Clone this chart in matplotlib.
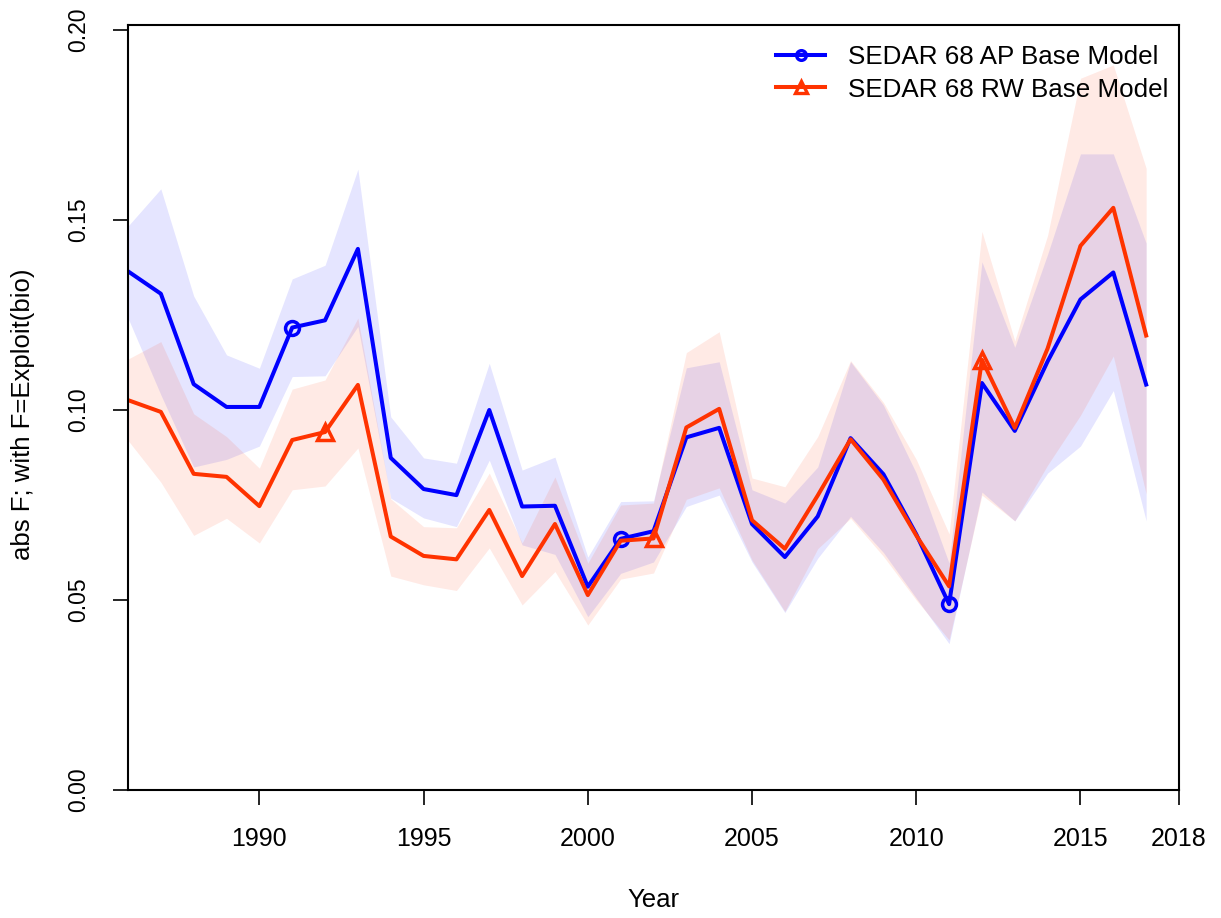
import matplotlib
matplotlib.use("Agg")
import matplotlib.pyplot as plt
from matplotlib.lines import Line2D

plt.rcParams["font.family"] = ["Liberation Sans", "DejaVu Sans"]

years = list(range(1986, 2018))

# SEDAR 68 AP base model: exploitation rate and interval bounds
ap_f = [0.1365, 0.1306, 0.1068, 0.1008, 0.1008, 0.1217, 0.1236, 0.1424,
        0.0874, 0.0792, 0.0776, 0.1000, 0.0746, 0.0748, 0.0535, 0.0661,
        0.0681, 0.0928, 0.0953, 0.0700, 0.0613, 0.0720, 0.0926, 0.0831,
        0.0673, 0.0489, 0.1071, 0.0945, 0.1128, 0.1291, 0.1362, 0.1067]
ap_hi = [0.1484, 0.1582, 0.1300, 0.1145, 0.1110, 0.1345, 0.1381, 0.1634,
         0.0982, 0.0874, 0.0860, 0.1123, 0.0842, 0.0876, 0.0613, 0.0759,
         0.0761, 0.1111, 0.1127, 0.0790, 0.0755, 0.0850, 0.1127, 0.1013,
         0.0834, 0.0597, 0.1390, 0.1165, 0.1410, 0.1674, 0.1674, 0.1439]
ap_lo = [0.1242, 0.1040, 0.0850, 0.0870, 0.0905, 0.1088, 0.1090, 0.1220,
         0.0768, 0.0716, 0.0693, 0.0868, 0.0645, 0.0620, 0.0456, 0.0570,
         0.0600, 0.0746, 0.0776, 0.0600, 0.0467, 0.0610, 0.0720, 0.0625,
         0.0505, 0.0385, 0.0784, 0.0708, 0.0834, 0.0905, 0.1051, 0.0708]

# SEDAR 68 RW base model
rw_f = [0.1026, 0.0995, 0.0832, 0.0824, 0.0747, 0.0921, 0.0942, 0.1066,
        0.0667, 0.0616, 0.0607, 0.0737, 0.0563, 0.0700, 0.0513, 0.0656,
        0.0662, 0.0954, 0.1003, 0.0710, 0.0635, 0.0775, 0.0923, 0.0817,
        0.0670, 0.0536, 0.1132, 0.0953, 0.1162, 0.1432, 0.1532, 0.1196]
rw_hi = [0.1134, 0.1180, 0.0990, 0.0930, 0.0847, 0.1055, 0.1079, 0.1242,
         0.0766, 0.0693, 0.0690, 0.0834, 0.0650, 0.0824, 0.0597, 0.0750,
         0.0755, 0.1151, 0.1206, 0.0821, 0.0798, 0.0930, 0.1130, 0.1020,
         0.0870, 0.0674, 0.1470, 0.1182, 0.1460, 0.1873, 0.1908, 0.1636]
rw_lo = [0.0920, 0.0810, 0.0670, 0.0715, 0.0650, 0.0790, 0.0800, 0.0900,
         0.0563, 0.0540, 0.0525, 0.0637, 0.0487, 0.0575, 0.0434, 0.0555,
         0.0571, 0.0765, 0.0795, 0.0605, 0.0470, 0.0635, 0.0715, 0.0615,
         0.0500, 0.0395, 0.0776, 0.0708, 0.0855, 0.0986, 0.1142, 0.0779]

model_names = ["SEDAR 68 AP Base Model", "SEDAR 68 RW Base Model"]
ap_col = "#0000FF"
rw_col = "#FF3300"

xticks = [1990, 1995, 2000, 2005, 2010, 2015, 2018]
yticks = [0.0, 0.05, 0.10, 0.15, 0.20]
ytick_labels = ["0.00", "0.05", "0.10", "0.15", "0.20"]

W, H = 1221, 918
fig = plt.figure(figsize=(W / 100, H / 100), dpi=100)
ax = fig.add_axes([128 / W, 1 - 790 / H, (1179 - 128) / W, (790 - 25) / H])

# uncertainty polygons first, then the lines on top
ax.fill_between(years, ap_lo, ap_hi, color=ap_col, alpha=0.1, lw=0)
ax.fill_between(years, rw_lo, rw_hi, color=rw_col, alpha=0.1, lw=0)

ax.plot(years, ap_f, color=ap_col, lw=2.9, marker="o", ms=10, mew=2.5,
        mfc="none", markevery=[5, 15, 25])
ax.plot(years, rw_f, color=rw_col, lw=2.9, marker="^", ms=12, mew=2.5,
        mfc="none", markevery=[6, 16, 26])

ax.set_xlim(1986, 2018)
ax.set_ylim(0, 0.2 * 765 / 760)

ax.set_xticks(xticks)
ax.set_xticklabels([str(x) for x in xticks], fontsize=18)
ax.set_yticks(yticks)
ax.set_yticklabels(ytick_labels, rotation=90, va="center", fontsize=16.5)
ax.tick_params(axis="x", length=11, width=1.2, pad=16, direction="out")
ax.tick_params(axis="y", length=11, width=1.2, pad=16, direction="out")
for sp in ax.spines.values():
    sp.set_linewidth(1.5)

fig.text(653.5 / W, 1 - 900 / H, "Year", ha="center", va="center", fontsize=18.5)
fig.text(23 / W, 1 - 414 / H, "abs F; with F=Exploit(bio)", rotation=90,
         ha="center", va="center", fontsize=18.5)

handles = [
    Line2D([], [], color=ap_col, lw=2.9, marker="o", ms=7, mew=2.4, mfc="none"),
    Line2D([], [], color=rw_col, lw=2.9, marker="^", ms=9, mew=2.4, mfc="none"),
]
ax.legend(handles, model_names, loc="upper left", frameon=False,
          bbox_to_anchor=(776 / W, 1 - 45 / H), bbox_transform=fig.transFigure,
          borderaxespad=0, borderpad=0, fontsize=18.7, handlelength=1.9,
          handletextpad=0.88, labelspacing=0.33)

fig.savefig("out.png", dpi=100)
